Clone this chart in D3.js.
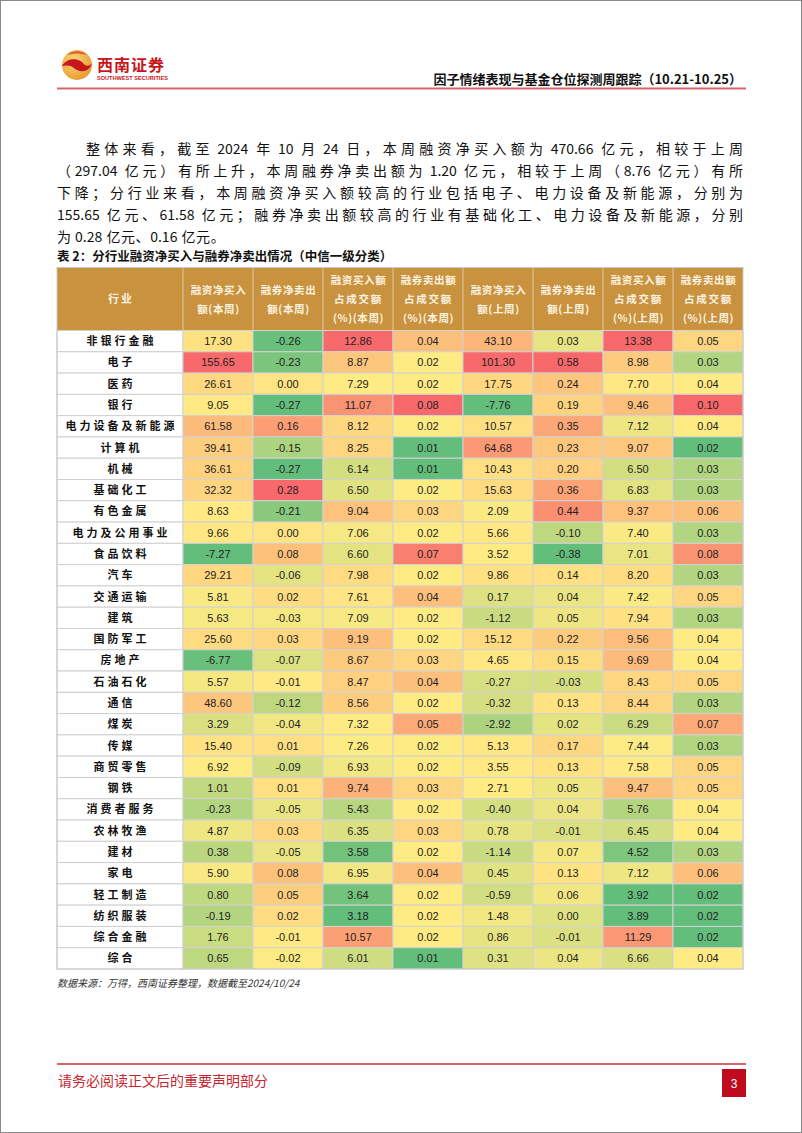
<!DOCTYPE html>
<html><head><meta charset="utf-8">
<script src="https://cdn.jsdelivr.net/npm/d3@7"></script>
<style>
html,body{margin:0;padding:0;background:#fff;}
svg{display:block;}
</style></head>
<body>
<script>
const industries = ["非银行金融","电子","医药","银行","电力设备及新能源","计算机","机械","基础化工","有色金属","电力及公用事业","食品饮料","汽车","交通运输","建筑","国防军工","房地产","石油石化","通信","煤炭","传媒","商贸零售","钢铁","消费者服务","农林牧渔","建材","家电","轻工制造","纺织服装","综合金融","综合"];
const finBuyThis   = [17.30,155.65,26.61,9.05,61.58,39.41,36.61,32.32,8.63,9.66,-7.27,29.21,5.81,5.63,25.60,-6.77,5.57,48.60,3.29,15.40,6.92,1.01,-0.23,4.87,0.38,5.90,0.80,-0.19,1.76,0.65];
const secSellThis  = [-0.26,-0.23,0.00,-0.27,0.16,-0.15,-0.27,0.28,-0.21,0.00,0.08,-0.06,0.02,-0.03,0.03,-0.07,-0.01,-0.12,-0.04,0.01,-0.09,0.01,-0.05,0.03,-0.05,0.08,0.05,0.02,-0.01,-0.02];
const finRatioThis = [12.86,8.87,7.29,11.07,8.12,8.25,6.14,6.50,9.04,7.06,6.60,7.98,7.61,7.09,9.19,8.67,8.47,8.56,7.32,7.26,6.93,9.74,5.43,6.35,3.58,6.95,3.64,3.18,10.57,6.01];
const secRatioThis = [0.04,0.02,0.02,0.08,0.02,0.01,0.01,0.02,0.03,0.02,0.07,0.02,0.04,0.02,0.02,0.03,0.04,0.02,0.05,0.02,0.02,0.03,0.02,0.03,0.02,0.04,0.02,0.02,0.02,0.01];
const finBuyLast   = [43.10,101.30,17.75,-7.76,10.57,64.68,10.43,15.63,2.09,5.66,3.52,9.86,0.17,-1.12,15.12,4.65,-0.27,-0.32,-2.92,5.13,3.55,2.71,-0.40,0.78,-1.14,0.45,-0.59,1.48,0.86,0.31];
const secSellLast  = [0.03,0.58,0.24,0.19,0.35,0.23,0.20,0.36,0.44,-0.10,-0.38,0.14,0.04,0.05,0.22,0.15,-0.03,0.13,0.02,0.17,0.13,0.05,0.04,-0.01,0.07,0.13,0.06,0.00,-0.01,0.04];
const finRatioLast = [13.38,8.98,7.70,9.46,7.12,9.07,6.50,6.83,9.37,7.40,7.01,8.20,7.42,7.94,9.56,9.69,8.43,8.44,6.29,7.44,7.58,9.47,5.76,6.45,4.52,7.12,3.92,3.89,11.29,6.66];
const secRatioLast = [0.05,0.03,0.04,0.10,0.04,0.02,0.03,0.03,0.06,0.03,0.08,0.03,0.05,0.03,0.04,0.04,0.05,0.03,0.07,0.03,0.05,0.05,0.04,0.04,0.03,0.06,0.02,0.02,0.02,0.04];

const columnKeys = ["finBuyThis","secSellThis","finRatioThis","secRatioThis","finBuyLast","secSellLast","finRatioLast","secRatioLast"];
const columnValues = [finBuyThis,secSellThis,finRatioThis,secRatioThis,finBuyLast,secSellLast,finRatioLast,secRatioLast];
const headerIndustry = "行业";
const headerLabels = [
  ["融资净买入","额(本周)"],
  ["融券净卖出","额(本周)"],
  ["融资买入额","占成交额","(%)(本周)"],
  ["融券卖出额","占成交额","(%)(本周)"],
  ["融资净买入","额(上周)"],
  ["融券净卖出","额(上周)"],
  ["融资买入额","占成交额","(%)(上周)"],
  ["融券卖出额","占成交额","(%)(上周)"]
];
const pageTitle = "因子情绪表现与基金仓位探测周跟踪（10.21-10.25）";
const paragraphLines = [
  "整体来看，截至 2024 年 10 月 24 日，本周融资净买入额为 470.66 亿元，相较于上周",
  "（297.04 亿元）有所上升，本周融券净卖出额为 1.20 亿元，相较于上周（8.76 亿元）有所",
  "下降；分行业来看，本周融资净买入额较高的行业包括电子、电力设备及新能源，分别为",
  "155.65 亿元、61.58 亿元；融券净卖出额较高的行业有基础化工、电力设备及新能源，分别",
  "为 0.28 亿元、0.16 亿元。"
];
const tableCaption = "表 2：分行业融资净买入与融券净卖出情况（中信一级分类）";
const sourceNote = "数据来源：万得，西南证券整理，数据截至2024/10/24";
const footerText = "请务必阅读正文后的重要声明部分";
const pageNumber = "3";

const W = 802, H = 1133;
const CJK = "'Noto Sans CJK SC', 'Noto Sans', sans-serif";
const LAT = "'Liberation Sans', Arial, sans-serif";
const svg = d3.select("body").append("svg").attr("width", W).attr("height", H);

// page border
svg.append("rect").attr("x",0.5).attr("y",0.5).attr("width",W-1).attr("height",H-1)
  .attr("fill","#fff").attr("stroke","#8a8a8a");

// ---- header ----
const defs = svg.append("defs");
const grad = defs.append("radialGradient").attr("id","logoGrad").attr("cx","40%").attr("cy","35%").attr("r","70%");
grad.append("stop").attr("offset","0%").attr("stop-color","#f9d77a");
grad.append("stop").attr("offset","100%").attr("stop-color","#e79a2c");
const logo = svg.append("g").attr("transform","translate(77,65)");
logo.append("circle").attr("r",15).attr("fill","url(#logoGrad)");
logo.append("path").attr("fill","#c8161d")
  .attr("d","M-15,1 C-9,-9 3,-6 6,-2 C9,2 13,1 15,-2 C12,9 1,7 -3,3 C-6,0 -11,0 -15,1 Z");
logo.append("path").attr("fill","#d9442a").attr("opacity",0.85)
  .attr("d","M-10,-10 C-4,-15 4,-15 10,-10 C3,-12 -3,-12 -10,-10 Z");
svg.append("text").attr("x",97).attr("y",71).attr("font-family",CJK).attr("font-weight","bold")
  .attr("font-size",16).attr("fill","#c8161d").attr("letter-spacing",1).text("西南证券");
svg.append("text").attr("x",97).attr("y",80).attr("font-family",LAT).attr("font-weight","bold")
  .attr("font-size",5.6).attr("fill","#c8161d").text("SOUTHWEST SECURITIES");
svg.append("text").attr("x",742).attr("y",84).attr("text-anchor","end").attr("font-family",CJK)
  .attr("font-weight","bold").attr("font-size",13).attr("fill","#111").text(pageTitle);
svg.append("line").attr("x1",57).attr("x2",746).attr("y1",88.5).attr("y2",88.5)
  .attr("stroke","#d9646c").attr("stroke-width",2);

// ---- paragraph (justified by distributing space between tokens) ----
const paraY = [154,176,198,220,242];
function tokenize(s){
  const out = []; let buf = ""; let spaceBefore = false;
  for (const ch of s){
    if (ch === " "){ if (buf){ out.push({t:buf,sp:spaceBefore}); buf=""; } spaceBefore = true; continue; }
    if (/[0-9A-Za-z.\/\-%]/.test(ch)) { buf += ch; continue; }
    if (buf){ out.push({t:buf,sp:spaceBefore}); buf=""; spaceBefore=false; }
    out.push({t:ch,sp:spaceBefore}); spaceBefore=false;
  }
  if (buf) out.push({t:buf,sp:spaceBefore});
  return out;
}
paragraphLines.forEach((line,i)=>{
  const x0 = i===0 ? 86 : 57, x1 = 743;
  const g = svg.append("g");
  const toks = tokenize(line);
  const SP = 3.5;
  const nodes = toks.map(tk => g.append("text").attr("y",paraY[i]).attr("font-family",CJK)
    .attr("font-size",14).attr("fill","#111").text(tk.t));
  const widths = nodes.map(n => n.node().getComputedTextLength());
  const spaces = toks.filter(t=>t.sp).length;
  const natural = d3.sum(widths) + spaces*SP;
  const justify = i < paragraphLines.length-1;
  const extra = justify ? (x1-x0-natural)/(toks.length-1) : 0.6;
  let x = x0;
  nodes.forEach((n,k)=>{
    if (toks[k].sp) x += SP;
    n.attr("x",x);
    x += widths[k] + extra;
  });
});

// ---- caption ----
svg.append("text").attr("x",57).attr("y",261).attr("font-family",CJK).attr("font-weight","bold")
  .attr("font-size",12.5).attr("fill","#111").text(tableCaption);

// ---- table ----
const tableLeft = 57, firstColRight = 183, tableRight = 743;
const headTop = 267.5, headBottom = 330.5, tableBottom = 969;
const xCol = d3.scaleBand().domain(columnKeys).range([firstColRight, tableRight]);
const yRow = d3.scaleBand().domain(industries).range([headBottom, tableBottom]);

// header
const head = svg.append("g");
head.append("rect").attr("x",tableLeft).attr("y",headTop).attr("width",tableRight-tableLeft)
  .attr("height",headBottom-headTop).attr("fill","#c8923f");
head.selectAll("line.hsep").data(columnKeys).join("line").attr("class","hsep")
  .attr("x1",d=>xCol(d)).attr("x2",d=>xCol(d)).attr("y1",headTop).attr("y2",headBottom)
  .attr("stroke","#dcc39a").attr("stroke-width",1.2);
head.append("text").attr("x",(tableLeft+firstColRight)/2+1).attr("y",303).attr("text-anchor","middle")
  .attr("font-family",CJK).attr("font-weight","bold").attr("font-size",11).attr("letter-spacing",2)
  .attr("fill","#fdf3e0").text(headerIndustry);
columnKeys.forEach((k,ci)=>{
  const lines = headerLabels[ci];
  const cx = xCol(k) + xCol.bandwidth()/2;
  const ys = lines.length===3 ? [284,303,322] : [293.5,312.5];
  lines.forEach((l,li)=>{
    head.append("text").attr("x",cx+0.5).attr("y",ys[li]).attr("text-anchor","middle")
      .attr("font-family",CJK).attr("font-weight","bold").attr("font-size",10.5)
      .attr("letter-spacing", /^[\u4e00-\u9fa5]+$/.test(l) && l.length===4 ? 1.8 : 0.6)
      .attr("fill","#fdf3e0").text(l);
  });
});

// colour scales (3-colour scale per column: min green, median yellow, max red)
const colorScales = columnValues.map(vals =>
  d3.scaleLinear().domain([d3.min(vals), d3.median(vals), d3.max(vals)])
    .range(["#63BE7B","#FFEB84","#F8696B"]).interpolate(d3.interpolateRgb));

const body = svg.append("g");
body.selectAll("rect.cat").data(industries).join("rect").attr("class","cat")
  .attr("x",tableLeft).attr("y",d=>yRow(d)).attr("width",firstColRight-tableLeft)
  .attr("height",yRow.bandwidth()).attr("fill","#fff").attr("stroke","#cfcfcf").attr("stroke-width",1);
body.selectAll("text.cat").data(industries).join("text").attr("class","cat")
  .attr("x",(tableLeft+firstColRight)/2+1.5).attr("y",d=>yRow(d)+yRow.bandwidth()/2+4)
  .attr("text-anchor","middle").attr("font-family",CJK).attr("font-weight","bold")
  .attr("font-size",11).attr("letter-spacing",3).attr("fill","#111").text(d=>d);

const fmt = d3.formatLocale({decimal:".",thousands:",",grouping:[3],currency:["",""],minus:"-"}).format(".2f");
columnKeys.forEach((k,ci)=>{
  const vals = columnValues[ci];
  const g = body.append("g");
  g.selectAll("rect").data(vals).join("rect")
    .attr("x",xCol(k)).attr("y",(d,i)=>yRow(industries[i])).attr("width",xCol.bandwidth())
    .attr("height",yRow.bandwidth()).attr("fill",d=>colorScales[ci](d))
    .attr("stroke","#d2d2d2").attr("stroke-width",1);
  g.selectAll("text").data(vals).join("text")
    .attr("x",xCol(k)+xCol.bandwidth()/2).attr("y",(d,i)=>yRow(industries[i])+yRow.bandwidth()/2+4)
    .attr("text-anchor","middle").attr("font-family",LAT).attr("font-size",11)
    .attr("fill","#222").text(d=>fmt(d));
});
svg.append("rect").attr("x",tableLeft).attr("y",headTop).attr("width",tableRight-tableLeft)
  .attr("height",tableBottom-headTop).attr("fill","none").attr("stroke","#c8c8c8").attr("stroke-width",1);

// source
svg.append("text").attr("x",57).attr("y",987).attr("font-family",CJK).attr("font-style","italic")
  .attr("font-size",10).attr("fill","#333").text(sourceNote);

// ---- footer ----
svg.append("line").attr("x1",57).attr("x2",746).attr("y1",1064).attr("y2",1064)
  .attr("stroke","#d9646c").attr("stroke-width",2);
svg.append("text").attr("x",58).attr("y",1086).attr("font-family",CJK).attr("font-size",14)
  .attr("fill","#c8262f").text(footerText);
svg.append("rect").attr("x",722).attr("y",1069).attr("width",24).attr("height",28).attr("fill","#c00a1e");
svg.append("text").attr("x",734).attr("y",1087.5).attr("text-anchor","middle").attr("font-family",LAT)
  .attr("font-size",12).attr("fill","#fff").text(pageNumber);
</script>
</body></html>
